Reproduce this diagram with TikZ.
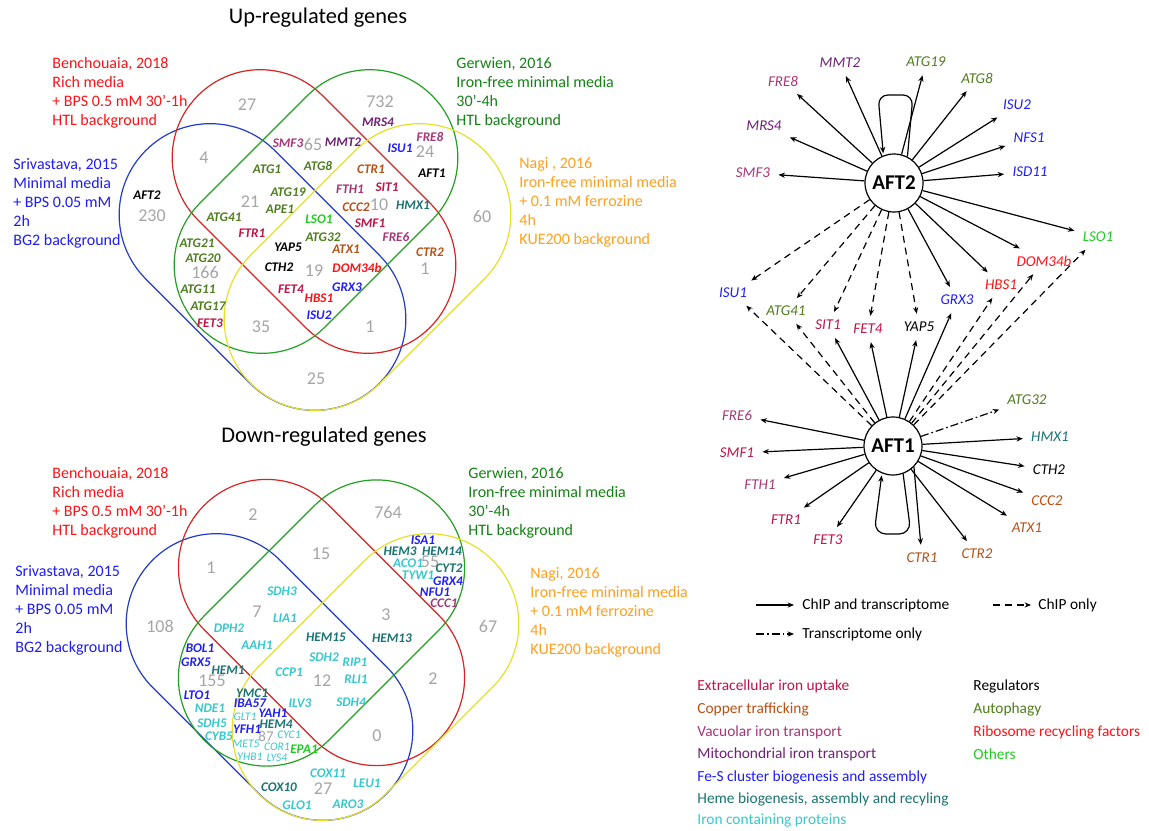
\documentclass[tikz,border=0pt]{standalone}
\usepackage{fontspec}
\setmainfont{Carlito}
\usetikzlibrary{arrows.meta}
\definecolor{cExt}{RGB}{190,20,70}
\definecolor{cCop}{RGB}{185,80,20}
\definecolor{cVac}{RGB}{165,55,120}
\definecolor{cMit}{RGB}{112,32,120}
\definecolor{cFes}{RGB}{30,30,245}
\definecolor{cHem}{RGB}{25,115,115}
\definecolor{cIro}{RGB}{55,200,205}
\definecolor{cAut}{RGB}{80,125,30}
\definecolor{cRib}{RGB}{250,20,20}
\definecolor{cOth}{RGB}{30,205,30}
\definecolor{numgray}{RGB}{165,165,165}
\definecolor{dRed}{RGB}{250,20,20}
\definecolor{dBlue}{RGB}{30,30,240}
\definecolor{dGreen}{RGB}{20,130,20}
\definecolor{dOrange}{RGB}{255,160,30}
\definecolor{vRed}{RGB}{215,35,35}
\definecolor{vGreen}{RGB}{35,160,35}
\definecolor{vBlue}{RGB}{35,60,200}
\definecolor{vYellow}{RGB}{230,225,40}
\begin{document}
\begin{tikzpicture}[x=0.5pt,y=-0.5pt,
 sGene/.style={inner sep=0, font=\fontsize{6.6}{7}\selectfont\bfseries\itshape},
 sSmall/.style={inner sep=0, font=\fontsize{5.8}{6}\selectfont\itshape},
 sNum/.style={inner sep=0, text=numgray, font=\fontsize{9}{10}\selectfont},
 sSNum/.style={inner sep=0, text=numgray, font=\fontsize{7.5}{8}\selectfont},
 sSet/.style={inner sep=0, anchor=north west, align=left, font=\fontsize{8}{9.5}\selectfont},
 sTitle/.style={inner sep=0, font=\fontsize{11.2}{13}\selectfont},
 sNet/.style={inner sep=3pt, font=\fontsize{7.5}{9}\selectfont\itshape},
 sTF/.style={circle, draw, line width=0.6pt, minimum size=29pt, inner sep=0, fill=white, font=\fontsize{10.5}{12}\selectfont\bfseries},
 sArr/.style={-{Stealth[length=3.2pt,width=2.6pt]}, line width=0.6pt, shorten >=1pt},
 sChip/.style={sArr, dash pattern=on 3.5pt off 2.5pt},
 sTrans/.style={sArr, dash pattern=on 4pt off 1.5pt on 0.8pt off 1.5pt},
 sLeg/.style={inner sep=0, anchor=west, font=\fontsize{7.7}{9}\selectfont},
 sVenn/.style={line width=0.6pt},
]
\useasboundingbox[fill=white] (0,0) rectangle (1149,830);

% ================= TOP VENN =================
\node[sTitle] (tUp) at (318,18) {Up-regulated genes};
\draw[sVenn, vBlue, rotate around={-45:(262.5,267)}, rounded corners=45.4pt] (97.6,176) rectangle (427.4,358);
\draw[sVenn, vRed, rotate around={-45:(314,211.5)}, rounded corners=43.9pt] (150,123.5) rectangle (478,299.5);
\draw[sVenn, vGreen, rotate around={45:(316,211.5)}, rounded corners=43.9pt] (152,123.5) rectangle (480,299.5);
\draw[sVenn, vYellow, rotate around={45:(367.5,267)}, rounded corners=45.4pt] (202.6,176) rectangle (532.4,358);

\node[sSet, text=dRed] (uBen) at (52,57) {Benchouaia, 2018\\Rich media\\+ BPS 0.5 mM 30’-1h\\HTL background};
\node[sSet, text=dBlue] (uSri) at (13,158) {Srivastava, 2015\\Minimal media\\+ BPS 0.05 mM\\2h\\BG2 background};
\node[sSet, text=dGreen] (uGer) at (456,57) {Gerwien, 2016\\Iron-free minimal media\\30’-4h\\HTL background};
\node[sSet, text=dOrange] (uNag) at (519,157) {Nagi , 2016\\Iron-free minimal media\\+ 0.1 mM ferrozine\\4h\\KUE200 background};

\node[sNum] (un27) at (247,105) {27};
\node[sNum] (un732) at (380,102) {732};
\node[sNum] (un65) at (313,144) {65};
\node[sNum] (un24) at (425,152) {24};
\node[sNum] (un4) at (204,158) {4};
\node[sNum] (un21) at (250,202) {21};
\node[sNum] (un10) at (379,205) {10};
\node[sNum] (un230) at (152,216) {230};
\node[sNum] (un60) at (482,216) {60};
\node[sNum] (un19) at (314,271) {19};
\node[sNum] (un1a) at (425,269) {1};
\node[sNum] (un166) at (205,272) {166};
\node[sNum] (un35) at (261,327) {35};
\node[sNum] (un1b) at (370,327) {1};
\node[sNum] (un25) at (316,379) {25};

\node[sGene, text=cMit] (uMRS4) at (378,122) {MRS4};
\node[sGene, text=cVac] (uSMF3) at (288,143) {SMF3};
\node[sGene, text=cMit] (uMMT2) at (343,142) {MMT2};
\node[sGene, text=cFes] (uISU1) at (400,148) {ISU1};
\node[sGene, text=cVac] (uFRE8) at (430,137) {FRE8};
\node[sGene, text=cAut] (uATG1) at (267,169) {ATG1};
\node[sGene, text=cAut] (uATG8) at (318,166) {ATG8};
\node[sGene, text=cCop] (uCTR1) at (371,169) {CTR1};
\node[sGene, text=black] (uAFT1) at (432,173) {AFT1};
\node[sGene, text=black] (uAFT2) at (147,195) {AFT2};
\node[sGene, text=cAut] (uATG19) at (288,192) {ATG19};
\node[sGene, text=cVac] (uFTH1) at (350,189) {FTH1};
\node[sGene, text=cExt] (uSIT1) at (387,187) {SIT1};
\node[sGene, text=cAut] (uAPE1) at (280,209) {APE1};
\node[sGene, text=cCop] (uCCC2) at (356,207) {CCC2};
\node[sGene, text=cHem] (uHMX1) at (413,205) {HMX1};
\node[sGene, text=cAut] (uATG41) at (224,217) {ATG41};
\node[sGene, text=cOth] (uLSO1) at (319,219) {LSO1};
\node[sGene, text=cExt] (uSMF1) at (370,223) {SMF1};
\node[sGene, text=cExt] (uFTR1) at (252,233) {FTR1};
\node[sGene, text=cAut] (uATG32) at (323,237) {ATG32};
\node[sGene, text=cVac] (uFRE6) at (396,237) {FRE6};
\node[sGene, text=cAut] (uATG21) at (197,243) {ATG21};
\node[sGene, text=black] (uYAP5) at (288,247) {YAP5};
\node[sGene, text=cCop] (uATX1) at (346,249) {ATX1};
\node[sGene, text=cCop] (uCTR2) at (430,252) {CTR2};
\node[sGene, text=cAut] (uATG20) at (203,258) {ATG20};
\node[sGene, text=black] (uCTH2) at (279,267) {CTH2};
\node[sGene, text=cRib] (uDOM34b) at (357,268) {DOM34b};
\node[sGene, text=cExt] (uFET4) at (291,289) {FET4};
\node[sGene, text=cFes] (uGRX3) at (347,287) {GRX3};
\node[sGene, text=cAut] (uATG11) at (198,289) {ATG11};
\node[sGene, text=cRib] (uHBS1) at (319,298) {HBS1};
\node[sGene, text=cAut] (uATG17) at (208,306) {ATG17};
\node[sGene, text=cFes] (uISU2) at (319,315) {ISU2};
\node[sGene, text=cExt] (uFET3) at (210,323) {FET3};

% ================= BOTTOM VENN =================
\node[sTitle] (tDown) at (324,437) {Down-regulated genes};
\draw[sVenn, vBlue, rotate around={-45:(269.5,677)}, rounded corners=44.9pt] (104.2,587) rectangle (434.8,767);
\draw[sVenn, vRed, rotate around={-45:(321.5,622.5)}, rounded corners=43.9pt] (155.7,534.5) rectangle (487.3,710.5);
\draw[sVenn, vGreen, rotate around={45:(321.5,623)}, rounded corners=43.9pt] (155.7,535) rectangle (487.3,711);
\draw[sVenn, vYellow, rotate around={45:(375.5,677)}, rounded corners=44.9pt] (210.2,587) rectangle (540.8,767);

\node[sSet, text=dRed] (dBen) at (52,467) {Benchouaia, 2018\\Rich media\\+ BPS 0.5 mM 30’-1h\\HTL background};
\node[sSet, text=dBlue] (dSri) at (15,565) {Srivastava, 2015\\Minimal media\\+ BPS 0.05 mM\\2h\\BG2 background};
\node[sSet, text=dGreen] (dGer) at (468,467) {Gerwien, 2016\\Iron-free minimal media\\30’-4h\\HTL background};
\node[sSet, text=dOrange] (dNag) at (530,567) {Nagi, 2016\\Iron-free minimal media\\+ 0.1 mM ferrozine\\4h\\KUE200 background};

\node[sNum] (dn2a) at (253,515) {2};
\node[sNum] (dn764) at (388,512) {764};
\node[sNum] (dn15) at (321,554) {15};
\node[sNum] (dn1) at (211,568) {1};
\node[sNum] (dn55) at (430,562) {55};
\node[sNum] (dn7) at (257,612) {7};
\node[sNum] (dn3) at (386,615) {3};
\node[sNum] (dn108) at (160,626) {108};
\node[sNum] (dn67) at (488,626) {67};
\node[sNum] (dn155) at (212,681) {155};
\node[sNum] (dn12) at (322,681) {12};
\node[sNum] (dn2b) at (433,679) {2};
\node[sSNum] (dn87) at (266,736) {87};
\node[sNum] (dn0) at (377,736) {0};
\node[sNum] (dn27) at (323,789) {27};

\node[sGene, text=cFes] (dISA1) at (423,540) {ISA1};
\node[sGene, text=cHem] (dHEM3) at (400,551) {HEM3};
\node[sGene, text=cHem] (dHEM14) at (442,551) {HEM14};
\node[sGene, text=cIro] (dACO1) at (408,563) {ACO1};
\node[sGene, text=cHem] (dCYT2) at (449,568) {CYT2};
\node[sGene, text=cIro] (dTYW1) at (418,575) {TYW1};
\node[sGene, text=cFes] (dGRX4) at (448,581) {GRX4};
\node[sGene, text=cFes] (dNFU1) at (435,592) {NFU1};
\node[sGene, text=cVac] (dCCC1) at (444,603) {CCC1};
\node[sGene, text=cIro] (dSDH3) at (282,591) {SDH3};
\node[sGene, text=cIro] (dLIA1) at (285,618) {LIA1};
\node[sGene, text=cIro] (dDPH2) at (229,628) {DPH2};
\node[sGene, text=cHem] (dHEM15) at (326,637) {HEM15};
\node[sGene, text=cHem] (dHEM13) at (392,638) {HEM13};
\node[sGene, text=cFes] (dBOL1) at (200,648) {BOL1};
\node[sGene, text=cIro] (dAAH1) at (257,645) {AAH1};
\node[sGene, text=cIro] (dSDH2) at (324,657) {SDH2};
\node[sGene, text=cIro] (dRIP1) at (355,662) {RIP1};
\node[sGene, text=cFes] (dGRX5) at (196,662) {GRX5};
\node[sGene, text=cHem] (dHEM1) at (228,670) {HEM1};
\node[sGene, text=cIro] (dCCP1) at (289,672) {CCP1};
\node[sGene, text=cIro] (dRLI1) at (356,679) {RLI1};
\node[sGene, text=cFes] (dLTO1) at (197,695) {LTO1};
\node[sGene, text=cHem] (dYMC1) at (252,693) {YMC1};
\node[sGene, text=cFes] (dIBA57) at (250,703) {IBA57};
\node[sGene, text=cIro] (dILV3) at (300,703) {ILV3};
\node[sGene, text=cIro] (dSDH4) at (351,702) {SDH4};
\node[sGene, text=cIro] (dNDE1) at (210,708) {NDE1};
\node[sSmall, text=cIro] (dGLT1) at (245,717) {GLT1};
\node[sGene, text=cFes] (dYAH1) at (273,713) {YAH1};
\node[sGene, text=cIro] (dSDH5) at (212,723) {SDH5};
\node[sGene, text=cHem] (dHEM4) at (276,724) {HEM4};
\node[sGene, text=cFes] (dYFH1) at (247,729) {YFH1};
\node[sGene, text=cIro] (dCYB5) at (219,736) {CYB5};
\node[sSmall, text=cIro] (dCYC1) at (289,735) {CYC1};
\node[sSmall, text=cIro] (dMET5) at (246,744) {MET5};
\node[sSmall, text=cIro] (dCOR1) at (277,747) {COR1};
\node[sGene, text=cOth] (dEPA1) at (304,749) {EPA1};
\node[sSmall, text=cIro] (dYHB1) at (250,757) {YHB1};
\node[sSmall, text=cIro] (dLYS4) at (277,758) {LYS4};
\node[sGene, text=cIro] (dCOX11) at (328,773) {COX11};
\node[sGene, text=cIro] (dLEU1) at (367,783) {LEU1};
\node[sGene, text=cHem] (dCOX10) at (279,787) {COX10};
\node[sGene, text=cIro] (dGLO1) at (297,805) {GLO1};
\node[sGene, text=cIro] (dARO3) at (348,804) {ARO3};

% ================= NETWORK =================
\node[sTF] (aft2) at (894,183) {AFT2};
\node[sTF] (aft1) at (893,446) {AFT1};

\node[sNet, text=cMit] (nMMT2) at (840,63) {MMT2};
\node[sNet, text=cAut] (nATG19) at (926,62) {ATG19};
\node[sNet, text=cVac] (nFRE8) at (783,81) {FRE8};
\node[sNet, text=cAut] (nATG8) at (977,78) {ATG8};
\node[sNet, text=cFes] (nISU2) at (1017,105) {ISU2};
\node[sNet, text=cMit] (nMRS4) at (764,126) {MRS4};
\node[sNet, text=cFes] (nNFS1) at (1029,138) {NFS1};
\node[sNet, text=cVac] (nSMF3) at (753,173) {SMF3};
\node[sNet, text=cFes] (nISD11) at (1030,172) {ISD11};
\node[sNet, text=cOth] (nLSO1) at (1098,237) {LSO1};
\node[sNet, text=cRib] (nDOM34b) at (1044,261) {DOM34b};
\node[sNet, text=cRib] (nHBS1) at (1001,285) {HBS1};
\node[sNet, text=cFes] (nGRX3) at (957,300) {GRX3};
\node[sNet, text=cFes] (nISU1) at (733,293) {ISU1};
\node[sNet, text=cAut] (nATG41) at (786,311) {ATG41};
\node[sNet, text=cExt] (nSIT1) at (828,325) {SIT1};
\node[sNet, text=cExt] (nFET4) at (868,329) {FET4};
\node[sNet, text=black] (nYAP5) at (919,327) {YAP5};
\node[sNet, text=cAut] (nATG32) at (1027,400) {ATG32};
\node[sNet, text=cVac] (nFRE6) at (737,415) {FRE6};
\node[sNet, text=cHem] (nHMX1) at (1050,437) {HMX1};
\node[sNet, text=cExt] (nSMF1) at (737,453) {SMF1};
\node[sNet, text=black] (nCTH2) at (1049,470) {CTH2};
\node[sNet, text=cVac] (nFTH1) at (760,485) {FTH1};
\node[sNet, text=cCop] (nCCC2) at (1047,501) {CCC2};
\node[sNet, text=cExt] (nFTR1) at (786,520) {FTR1};
\node[sNet, text=cCop] (nATX1) at (1027,528) {ATX1};
\node[sNet, text=cExt] (nFET3) at (828,540) {FET3};
\node[sNet, text=cCop] (nCTR1) at (922,558) {CTR1};
\node[sNet, text=cCop] (nCTR2) at (977,554) {CTR2};

% AFT2 edges
\foreach \t in {MMT2,FRE8,MRS4,SMF3,ATG19,ATG8,ISU2,NFS1,ISD11,LSO1,DOM34b,HBS1,GRX3}
  \draw[sArr] (aft2) -- (n\t);
\foreach \t in {ISU1,ATG41,SIT1,FET4,YAP5}
  \draw[sChip] (aft2) -- (n\t);
\draw[sArr, rounded corners=5pt] (aft2.63) -- (913,95) -- (878,95) -- (aft2.111);

% AFT1 edges
\foreach \t in {SIT1,FET4,YAP5,GRX3,FRE6,SMF1,FTH1,FTR1,FET3,CTR2,ATX1,CCC2,CTH2,HMX1}
  \draw[sArr] (aft1) -- (n\t);
\draw[sArr] (aft1.-45) -- (nCTR1);
\foreach \t in {ISU1,ATG41,HBS1,DOM34b,LSO1}
  \draw[sChip] (aft1) -- (n\t);
\draw[sTrans] (aft1) -- (nATG32);
\draw[sArr, rounded corners=6pt] (aft1.-70) -- (911,534) -- (874,534) -- (aft1.-112);

% Legend for edges
\coordinate (l1a) at (756,605); \coordinate (l1b) at (796,605);
\coordinate (l2a) at (993,605); \coordinate (l2b) at (1033,605);
\coordinate (l3a) at (756,634); \coordinate (l3b) at (796,634);
\draw[sArr] (l1a) -- (l1b);
\draw[sChip] (l2a) -- (l2b);
\draw[sTrans] (l3a) -- (l3b);
\node[sLeg] (tl1) at (802,605) {ChIP and transcriptome};
\node[sLeg] (tl2) at (1038,605) {ChIP only};
\node[sLeg] (tl3) at (802,634) {Transcriptome only};

% Legend for categories
\node[sLeg, text=cExt] (c1) at (697,686) {Extracellular iron uptake};
\node[sLeg, text=cCop] (c2) at (697,709) {Copper trafficking};
\node[sLeg, text=cVac] (c3) at (697,732) {Vacuolar iron transport};
\node[sLeg, text=cMit] (c4) at (697,754) {Mitochondrial iron transport};
\node[sLeg, text=cFes] (c5) at (697,777) {Fe-S cluster biogenesis and assembly};
\node[sLeg, text=cHem] (c6) at (697,799) {Heme biogenesis, assembly and recyling};
\node[sLeg, text=cIro] (c7) at (697,821) {Iron containing proteins};
\node[sLeg, text=black] (c8) at (973,686) {Regulators};
\node[sLeg, text=cAut] (c9) at (973,709) {Autophagy};
\node[sLeg, text=cRib] (c10) at (973,732) {Ribosome recycling factors};
\node[sLeg, text=cOth] (c11) at (973,754) {Others};
\end{tikzpicture}
\end{document}
